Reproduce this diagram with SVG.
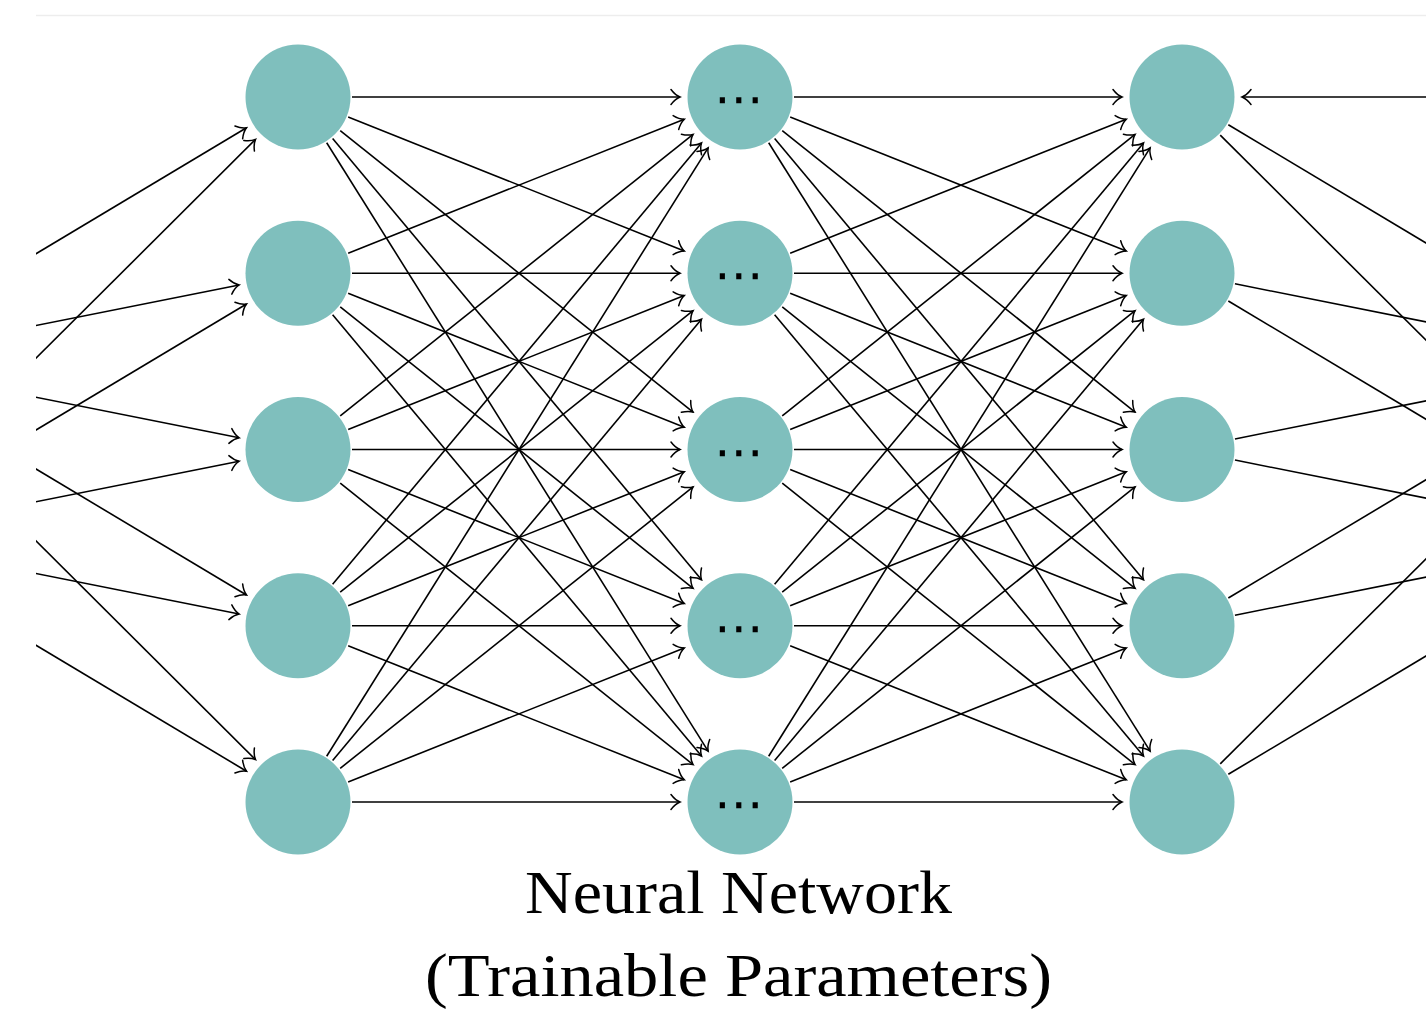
<svg xmlns="http://www.w3.org/2000/svg" width="1426" height="1013" viewBox="0 0 1426 1013">
<style>
.node{fill:#7fbfbd}
.e{stroke:#000;stroke-width:1.6;fill:none}
.a{marker-end:url(#arr)}
.dots{font-family:"DejaVu Sans",sans-serif;font-size:50px;fill:#000;text-anchor:middle}
.cap{font-family:"Liberation Serif",serif;font-size:62px;fill:#000;text-anchor:middle}
</style>
<defs>
<marker id="arr" markerUnits="userSpaceOnUse" viewBox="-12 -10 14 20" markerWidth="14" markerHeight="20" refX="0" refY="0" orient="auto">
<path d="M -9 -7.5 C -6 -3.5 -2.5 -1 0 0 C -2.5 1 -6 3.5 -9 7.5" fill="none" stroke="#000" stroke-width="1.5" stroke-linecap="round"/>
</marker>
<clipPath id="clip"><rect x="36" y="0" width="1390" height="1013"/></clipPath>
</defs>
<rect width="1426" height="1013" fill="#fff"/>
<line x1="36" y1="15.5" x2="1426" y2="15.5" stroke="#ededed" stroke-width="1.5"/>
<g id="connectors" clip-path="url(#clip)">
<g id="inputs" class="e a">
<path d="M -144 361.375 L 246.51 127.80"/>
<path d="M -144 361.375 L 239.16 284.98"/>
<path d="M -144 361.375 L 239.16 437.77"/>
<path d="M -144 361.375 L 246.51 594.95"/>
<path d="M -144 361.375 L 255.51 759.64"/>
<path d="M -144 537.625 L 255.51 139.36"/>
<path d="M -144 537.625 L 246.51 304.05"/>
<path d="M -144 537.625 L 239.16 461.23"/>
<path d="M -144 537.625 L 239.16 614.02"/>
<path d="M -144 537.625 L 246.51 771.2"/>
</g>
<g id="layer12" class="e a">
<path d="M 352 97 L 680 97"/>
<path d="M 348.16 117 L 684.27 251.03"/>
<path d="M 340.22 130.67 L 693.09 412.09"/>
<path d="M 332.63 138.43 L 701.52 579.72"/>
<path d="M 326.68 142.75 L 708.13 751.16"/>
<path d="M 348.16 253.25 L 684.27 119.22"/>
<path d="M 352 273.25 L 680 273.25"/>
<path d="M 348.16 293.25 L 684.27 427.28"/>
<path d="M 340.22 306.92 L 693.09 588.34"/>
<path d="M 332.63 314.68 L 701.52 755.97"/>
<path d="M 340.22 415.83 L 693.09 134.41"/>
<path d="M 348.16 429.5 L 684.27 295.47"/>
<path d="M 352 449.5 L 680 449.5"/>
<path d="M 348.16 469.5 L 684.27 603.53"/>
<path d="M 340.22 483.17 L 693.09 764.59"/>
<path d="M 332.63 584.32 L 701.52 143.03"/>
<path d="M 340.22 592.08 L 693.09 310.66"/>
<path d="M 348.16 605.75 L 684.27 471.72"/>
<path d="M 352 625.75 L 680 625.75"/>
<path d="M 348.16 645.75 L 684.27 779.78"/>
<path d="M 326.68 756.25 L 708.13 147.84"/>
<path d="M 332.63 760.57 L 701.52 319.28"/>
<path d="M 340.22 768.33 L 693.09 486.91"/>
<path d="M 348.16 782 L 684.27 647.97"/>
<path d="M 352 802 L 680 802"/>
</g>
<g id="layer23" class="e a">
<path d="M 794 97 L 1122 97"/>
<path d="M 790.16 117 L 1126.27 251.03"/>
<path d="M 782.22 130.67 L 1135.09 412.09"/>
<path d="M 774.63 138.43 L 1143.52 579.72"/>
<path d="M 768.68 142.75 L 1150.13 751.16"/>
<path d="M 790.16 253.25 L 1126.27 119.22"/>
<path d="M 794 273.25 L 1122 273.25"/>
<path d="M 790.16 293.25 L 1126.27 427.28"/>
<path d="M 782.22 306.92 L 1135.09 588.34"/>
<path d="M 774.63 314.68 L 1143.52 755.97"/>
<path d="M 782.22 415.83 L 1135.09 134.41"/>
<path d="M 790.16 429.5 L 1126.27 295.47"/>
<path d="M 794 449.5 L 1122 449.5"/>
<path d="M 790.16 469.5 L 1126.27 603.53"/>
<path d="M 782.22 483.17 L 1135.09 764.59"/>
<path d="M 774.63 584.32 L 1143.52 143.03"/>
<path d="M 782.22 592.08 L 1135.09 310.66"/>
<path d="M 790.16 605.75 L 1126.27 471.72"/>
<path d="M 794 625.75 L 1122 625.75"/>
<path d="M 790.16 645.75 L 1126.27 779.78"/>
<path d="M 768.68 756.25 L 1150.13 147.84"/>
<path d="M 774.63 760.57 L 1143.52 319.28"/>
<path d="M 782.22 768.33 L 1135.09 486.91"/>
<path d="M 790.16 782 L 1126.27 647.97"/>
<path d="M 794 802 L 1122 802"/>
</g>
<g id="outputs" class="e">
<path d="M 1228.34 124.72 L 1624 361.375"/>
<path d="M 1220.24 135.12 L 1624 537.625"/>
<path d="M 1234.96 283.81 L 1624 361.375"/>
<path d="M 1228.34 300.97 L 1624 537.625"/>
<path d="M 1234.96 438.94 L 1624 361.375"/>
<path d="M 1234.96 460.06 L 1624 537.625"/>
<path d="M 1228.34 598.03 L 1624 361.375"/>
<path d="M 1234.96 615.19 L 1624 537.625"/>
<path d="M 1220.24 763.88 L 1624 361.375"/>
<path d="M 1228.34 774.28 L 1624 537.625"/>
</g>
<path id="feedback" class="e a" d="M 1500 97 L 1242 97"/>
</g>
<g id="col1">
<g id="n1_1"><circle class="node" cx="298" cy="97" r="52.5"/></g>
<g id="n1_2"><circle class="node" cx="298" cy="273.25" r="52.5"/></g>
<g id="n1_3"><circle class="node" cx="298" cy="449.5" r="52.5"/></g>
<g id="n1_4"><circle class="node" cx="298" cy="625.75" r="52.5"/></g>
<g id="n1_5"><circle class="node" cx="298" cy="802" r="52.5"/></g>
</g>
<g id="col2">
<g id="n2_1"><circle class="node" cx="740" cy="97" r="52.5"/><text class="dots" x="739" y="116">⋯</text></g>
<g id="n2_2"><circle class="node" cx="740" cy="273.25" r="52.5"/><text class="dots" x="739" y="292.25">⋯</text></g>
<g id="n2_3"><circle class="node" cx="740" cy="449.5" r="52.5"/><text class="dots" x="739" y="468.5">⋯</text></g>
<g id="n2_4"><circle class="node" cx="740" cy="625.75" r="52.5"/><text class="dots" x="739" y="644.75">⋯</text></g>
<g id="n2_5"><circle class="node" cx="740" cy="802" r="52.5"/><text class="dots" x="739" y="821">⋯</text></g>
</g>
<g id="col3">
<g id="n3_1"><circle class="node" cx="1182" cy="97" r="52.5"/></g>
<g id="n3_2"><circle class="node" cx="1182" cy="273.25" r="52.5"/></g>
<g id="n3_3"><circle class="node" cx="1182" cy="449.5" r="52.5"/></g>
<g id="n3_4"><circle class="node" cx="1182" cy="625.75" r="52.5"/></g>
<g id="n3_5"><circle class="node" cx="1182" cy="802" r="52.5"/></g>
</g>
<g id="caption">
<text class="cap" x="738.5" y="913" textLength="427" lengthAdjust="spacingAndGlyphs">Neural Network</text>
<text class="cap" x="738.5" y="996" textLength="627" lengthAdjust="spacingAndGlyphs">(Trainable Parameters)</text>
</g>
</svg>
